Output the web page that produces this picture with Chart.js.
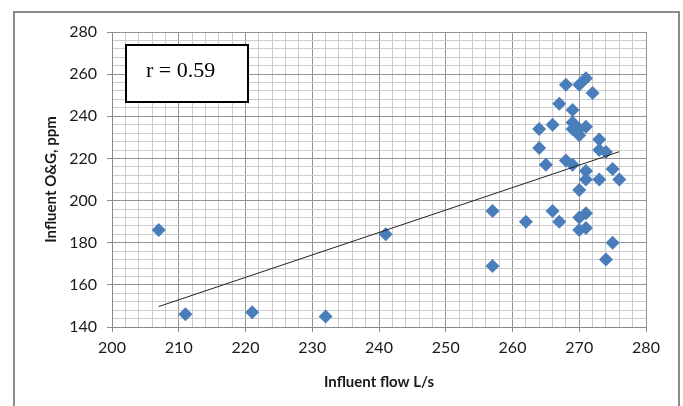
<!DOCTYPE html>
<html>
<head>
<meta charset="utf-8">
<script src="https://cdn.jsdelivr.net/npm/chart.js@4.4.0/dist/chart.umd.min.js"></script>
<style>
  html, body { margin: 0; padding: 0; background: #fff; }
  #wrap { width: 683px; height: 406px; position: relative; }
</style>
</head>
<body>
<div id="wrap"><canvas id="grafica" width="683" height="406"></canvas></div>
<script>
// datos
const flujo = [207, 211, 221, 232, 241, 257, 257, 262, 264, 264, 265, 266, 266, 267, 267,
  268, 268, 269, 269, 269, 269, 270, 270, 270, 270, 270, 270, 271, 271, 271, 271, 271, 271,
  272, 273, 273, 273, 274, 274, 275, 275, 276];
const grasa = [186, 146, 147, 145, 184, 195, 169, 190, 234, 225, 217, 236, 195, 246, 190,
  255, 219, 243, 237, 234, 217, 255, 231, 205, 192, 186, 234, 258, 235, 214, 210, 194, 187,
  251, 229, 224, 210, 223, 172, 215, 180, 210];

// linea de tendencia (extremos leidos)
const tendX = [207, 276];
const tendY = [149.7, 223.2];

const xTicks = [200, 210, 220, 230, 240, 250, 260, 270, 280];
const yTicks = [140, 160, 180, 200, 220, 240, 260, 280];
const textoR = "r = 0.59";

const puntos = flujo.map((x, i) => ({ x: x, y: grasa[i] }));
const linea = tendX.map((x, i) => ({ x: x, y: tendY[i] }));

const fuente = "Lato, 'Liberation Sans', sans-serif";

// marco exterior y cuadro de r
const extras = {
  id: "extras",
  beforeDraw(chart) {
    const c = chart.ctx;
    c.save();
    c.fillStyle = "#fff";
    c.fillRect(0, 0, chart.width, chart.height);
    c.strokeStyle = "#8c8c8c";
    c.lineWidth = 2;
    c.beginPath();
    c.moveTo(14, 410);
    c.lineTo(14, 12);
    c.lineTo(679, 12);
    c.lineTo(679, 410);
    c.stroke();
    c.restore();
  },
  afterDraw(chart) {
    const c = chart.ctx;
    const a = chart.chartArea;
    c.save();
    c.fillStyle = "#fff";
    c.fillRect(a.left + 14, a.top + 13, 122, 57);
    c.strokeStyle = "#000";
    c.lineWidth = 2;
    c.strokeRect(a.left + 14, a.top + 13, 122, 57);
    c.fillStyle = "#000";
    c.font = "22px 'Liberation Serif', serif";
    c.textBaseline = "alphabetic";
    c.fillText(textoR, a.left + 34, a.top + 45);
    c.restore();
  }
};

const grafico = new Chart(document.getElementById("grafica").getContext("2d"), {
  type: "scatter",
  data: {
    datasets: [
      {
        label: "O&G",
        data: puntos,
        pointStyle: "rectRot",
        pointRadius: 7,
        pointHoverRadius: 7,
        backgroundColor: "#4a7ebb",
        borderColor: "#4a7ebb",
        borderWidth: 0,
        order: 2
      },
      {
        label: "tendencia",
        type: "line",
        data: linea,
        borderColor: "#222",
        borderWidth: 1,
        pointRadius: 0,
        fill: false,
        order: 1
      }
    ]
  },
  plugins: [extras],
  options: {
    responsive: false,
    animation: false,
    events: [],
    layout: { padding: { left: 38, top: 32, right: 37, bottom: 0 } },
    plugins: { legend: { display: false }, tooltip: { enabled: false } },
    scales: {
      x: {
        type: "linear",
        min: 200,
        max: 280,
        afterFit(s) { s.height = 79; },
        afterBuildTicks(s) {
          s.ticks = [];
          for (let v = 200; v <= 280; v += 2) s.ticks.push({ value: v });
        },
        ticks: {
          autoSkip: false,
          maxRotation: 0,
          padding: 6,
          color: "#1a1a1a",
          font: { family: fuente, size: 16 },
          callback: (v) => (xTicks.includes(v) ? String(v) : "")
        },
        grid: {
          color: (c) => (c.tick && c.tick.value % 10 === 0 ? "#939393" : "#cccccc"),
          tickColor: (c) => (c.tick && c.tick.value % 10 === 0 ? "#8a8a8a" : "transparent"),
          tickLength: 5,
          lineWidth: 1
        },
        border: { color: "#8a8a8a", width: 1 },
        title: {
          display: true,
          text: "Influent flow L/s",
          color: "#1a1a1a",
          font: { family: fuente, size: 15, weight: "bold" },
          padding: { top: 4, bottom: 15 }
        }
      },
      y: {
        type: "linear",
        min: 140,
        max: 280,
        afterFit(s) { s.width = 74; },
        afterBuildTicks(s) {
          s.ticks = [];
          for (let v = 140; v <= 280; v += 4) s.ticks.push({ value: v });
        },
        ticks: {
          autoSkip: false,
          padding: 10,
          color: "#1a1a1a",
          font: { family: fuente, size: 16 },
          callback: (v) => (yTicks.includes(v) ? String(v) : "")
        },
        grid: {
          color: (c) => (c.tick && c.tick.value % 20 === 0 ? "#939393" : "#cccccc"),
          tickColor: (c) => (c.tick && c.tick.value % 20 === 0 ? "#8a8a8a" : "transparent"),
          tickLength: 5,
          lineWidth: 1
        },
        border: { color: "#8a8a8a", width: 1 },
        title: {
          display: true,
          text: "Influent O&G, ppm",
          color: "#1a1a1a",
          font: { family: fuente, size: 15, weight: "bold" },
          padding: { top: 4, bottom: 4 }
        }
      }
    }
  }
});
</script>
</body>
</html>
